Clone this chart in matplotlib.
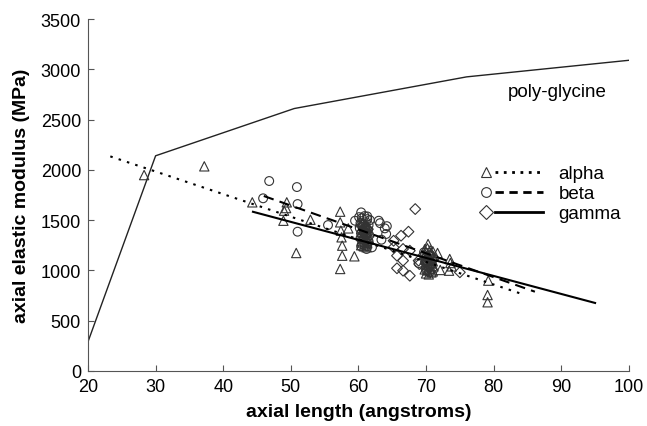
import matplotlib
matplotlib.use('Agg')
import matplotlib.pyplot as plt
from matplotlib.lines import Line2D
from matplotlib.legend_handler import HandlerBase

plt.rcParams['font.family'] = ['Liberation Sans', 'DejaVu Sans']

# poly-glycine curve
glycine_x = [20, 30, 50.5, 76, 100]
glycine_y = [290, 2140, 2610, 2925, 3090]

# alpha (triangles)
alpha_x = [28.3, 37.2, 44.3, 49.4, 49.0, 49.3, 48.9, 50.8, 52.9,
           57.3, 57.3, 57.4, 57.5, 57.6, 57.6, 57.3, 58.5, 59.4,
           60.2, 60.6, 61.0, 61.4, 60.4, 60.8, 61.2, 61.6, 60.3, 60.7, 61.1, 61.5,
           60.5, 60.9, 61.3, 60.4, 60.8, 61.2,
           69.8, 70.2, 70.6, 71.0, 69.9, 70.3, 70.7, 71.1, 69.8, 70.2, 70.6, 71.0,
           69.9, 70.3, 70.7, 71.1, 69.8, 70.2, 70.6, 71.0, 70.0, 70.4, 70.8,
           70.3, 71.7, 72.1, 73.5, 73.6, 73.4, 73.8, 79.2, 79.1, 79.1]
alpha_y = [1948, 2035, 1677, 1677, 1594, 1620, 1494, 1173, 1504,
           1584, 1478, 1395, 1329, 1246, 1146, 1014, 1418, 1140,
           1480, 1470, 1450, 1440, 1410, 1400, 1390, 1380, 1350, 1340, 1330, 1320,
           1290, 1280, 1270, 1250, 1240, 1230,
           1210, 1220, 1200, 1190, 1160, 1150, 1170, 1140, 1110, 1100, 1120, 1090,
           1060, 1050, 1070, 1040, 1010, 1000, 1020, 990, 970, 960, 980,
           1262, 1173, 1004, 1113, 1073, 997, 1040, 898, 755, 683]

# beta (circles)
beta_x = [45.9, 46.8, 50.9, 51.0, 51.0, 55.5, 59.5, 60.4, 61.3, 63.0, 63.9,
          64.1, 63.4, 62.0, 60.4, 61.2, 63.2, 64.2, 68.9,
          60.1, 60.5, 60.9, 61.3, 61.7, 60.3, 60.7, 61.1, 61.5, 60.2, 60.6, 61.0,
          61.4, 60.4, 60.8, 61.2, 61.6, 60.3, 60.7, 61.1, 61.5, 60.5, 60.9, 61.3,
          69.7, 70.1, 70.5, 70.9, 69.9, 70.4, 70.8, 70.0, 70.5]
beta_y = [1717, 1889, 1829, 1660, 1385, 1451, 1494, 1577, 1537, 1494, 1418,
          1362, 1305, 1229, 1239, 1213, 1470, 1440, 1073,
          1530, 1520, 1540, 1510, 1500, 1470, 1460, 1480, 1450, 1420, 1430, 1410,
          1400, 1370, 1380, 1360, 1350, 1320, 1310, 1300, 1290, 1260, 1250, 1240,
          1180, 1130, 1150, 1100, 1080, 1030, 1060, 1000, 980]

# gamma (diamonds)
gamma_x = [68.4, 67.4, 66.3, 65.2, 66.6, 65.7, 66.6, 65.7, 66.6, 67.6, 68.9,
           69.0, 67.6, 65.2, 75.0,
           60.6, 61.0, 61.4, 60.8, 61.2, 60.6, 61.0, 61.4,
           69.6, 70.0, 70.6, 71.2, 70.2, 70.8]
gamma_y = [1610, 1385, 1345, 1295, 1213, 1146, 1097, 1021, 997, 947, 1097,
           1063, 1196, 1229, 981,
           1450, 1430, 1410, 1370, 1350, 1310, 1290, 1270,
           1150, 1090, 1040, 1120, 1000, 1010]

# fitted lines (end points)
alpha_fit_x = [23.3, 84.2]
alpha_fit_y = [2134, 765]
beta_fit_x = [46.0, 86.1]
beta_fit_y = [1740, 788]
gamma_fit_x = [44.4, 95.0]
gamma_fit_y = [1583, 676]


class MarkerThenLine(HandlerBase):
    # legend key: marker on the left, line sample on the right
    def create_artists(self, legend, orig_handle, xdescent, ydescent,
                       width, height, fontsize, trans):
        mk, ls = orig_handle
        y = height / 2 - ydescent
        m = Line2D([width * 0.08 - xdescent], [y], marker=mk, ls='none',
                   mfc='none', mec='#333333', mew=0.8, ms=7, transform=trans)
        l = Line2D([width * 0.23 - xdescent, width - xdescent], [y, y],
                   ls=ls, color='black', lw=2, transform=trans)
        return [m, l]


fig = plt.figure(figsize=(6.47, 4.27), dpi=100)
ax = fig.add_axes([0.136, 0.129, 0.836, 0.824])

ax.plot(glycine_x, glycine_y, color='#222222', lw=1)

mk_style = dict(facecolor='none', edgecolors='#333333', linewidths=0.8, zorder=3)
ax.scatter(alpha_x, alpha_y, marker='^', s=45, **mk_style)
ax.scatter(beta_x, beta_y, marker='o', s=40, **mk_style)
ax.scatter(gamma_x, gamma_y, marker='D', s=30, **mk_style)

ax.plot(alpha_fit_x, alpha_fit_y, color='black', lw=1.5, ls=(0, (1.2, 3)), zorder=4)
ax.plot(beta_fit_x, beta_fit_y, color='black', lw=1.5, ls=(0, (5, 3)), zorder=4)
ax.plot(gamma_fit_x, gamma_fit_y, color='black', lw=1.5, ls='-', zorder=4)

ax.text(89.4, 2778, 'poly-glycine', ha='center', va='center', fontsize=13.5)

handles = [('^', (0, (1, 2))), ('o', (0, (3, 2))), ('D', '-')]
ax.legend(handles, ['alpha', 'beta', 'gamma'], handler_map={tuple: MarkerThenLine()},
          frameon=False, fontsize=13.5, handlelength=3.3, handletextpad=0.85,
          labelspacing=0.15, borderpad=0, loc='upper left',
          bbox_to_anchor=(0.709, 0.611))

ax.set_xlim(20, 100)
ax.set_ylim(0, 3500)
ax.set_xticks(range(20, 101, 10))
ax.set_yticks(range(0, 3501, 500))
ax.tick_params(direction='in', length=4, color='#555555', labelsize=13, pad=5)
for s in ['top', 'right']:
    ax.spines[s].set_visible(False)
for s in ['left', 'bottom']:
    ax.spines[s].set_color('#555555')

ax.set_xlabel('axial length (angstroms)', fontsize=14, fontweight='bold', labelpad=6)
ax.set_ylabel('axial elastic modulus (MPa)', fontsize=14, fontweight='bold', labelpad=8)

fig.savefig('out.png', dpi=100)
